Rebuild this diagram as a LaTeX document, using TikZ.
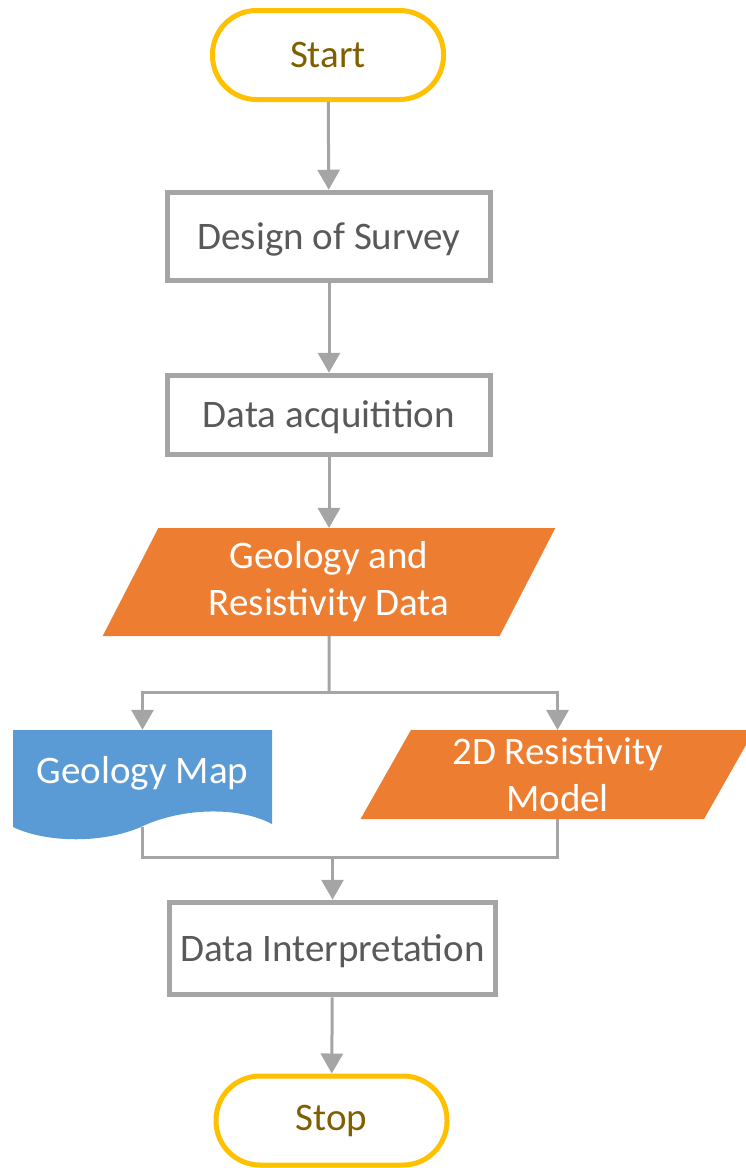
\documentclass[tikz,border=0pt]{standalone}
\usepackage{fontspec}
\setmainfont{Carlito}
\usetikzlibrary{arrows.meta,shapes.geometric}
\definecolor{fcgold}{HTML}{FFC000}
\definecolor{fcbrown}{HTML}{7F6000}
\definecolor{fcgrey}{HTML}{A5A5A5}
\definecolor{fctext}{HTML}{595959}
\definecolor{fcorange}{HTML}{ED7D31}
\definecolor{fcblue}{HTML}{5B9BD5}
\tikzset{
  terminal/.style={draw=fcgold,line width=5pt,rounded corners=44pt,minimum width=231pt,minimum height=89pt,text=fcbrown,inner sep=0pt},
  process/.style={draw=fcgrey,line width=5.5pt,text=fctext,inner sep=0pt,text height=33pt,text depth=8pt},
  dataio/.style={trapezium,trapezium left angle=64,trapezium right angle=116,trapezium stretches,fill=fcorange,text=white,align=center,inner sep=0pt,outer sep=0pt},
  flow/.style={draw=fcgrey,line width=3pt},
  flowarrow/.style={flow,-{Triangle[width=22pt,length=20pt]}}
}

\begin{document}
\begin{tikzpicture}[x=1pt,y=-1pt,font=\fontsize{39}{47}\selectfont]
\useasboundingbox (0,0) rectangle (745,1168);

% document shape under the map label
\fill[fcblue] (13,730) -- (272,730) -- (272,824) .. controls (238,806) and (182,808) .. (143,826) .. controls (104,844) and (46,843) .. (13,827) -- cycle;

\node[terminal] (start) at (328,55) {Start};
\node[process,minimum width=323pt,minimum height=88pt] (design) at (329,236.5) {Design of Survey};
\node[process,minimum width=323pt,minimum height=79pt] (acq) at (329,415) {Data acquitition};
\node[dataio,minimum width=454pt,minimum height=108pt] (geodata) at (329,582) {Geology and\\Resistivity Data};
\node[text=white,minimum width=259pt,minimum height=97pt,inner sep=0pt,text height=27pt,text depth=18pt] (geomap) at (142.5,778.5) {Geology Map};
\node[dataio,minimum width=395pt,minimum height=89pt] (model) at (557.5,774.5) {2D Resistivity\\Model};
\node[process,minimum width=326pt,minimum height=92pt] (interp) at (332.5,948.5) {Data Interpretation};
\node[terminal] (stop) at (331.5,1120.5) {Stop};

\coordinate (split) at (329,692);
\coordinate (join) at (332.5,857);

\draw[flowarrow] (start) -- (design);
\draw[flowarrow] (design) -- (acq);
\draw[flowarrow] (acq) -- (geodata);
\draw[flow] (geodata.south) -- (split);
\draw[flowarrow] (split) -| (geomap.north);
\draw[flowarrow] (split) -| (model.north);
\draw[flow] (geomap.south) |- (join) -| (model.south);
\draw[flowarrow] (join) -- (interp);
\draw[flowarrow] (interp) -- (stop);
\end{tikzpicture}
\end{document}
